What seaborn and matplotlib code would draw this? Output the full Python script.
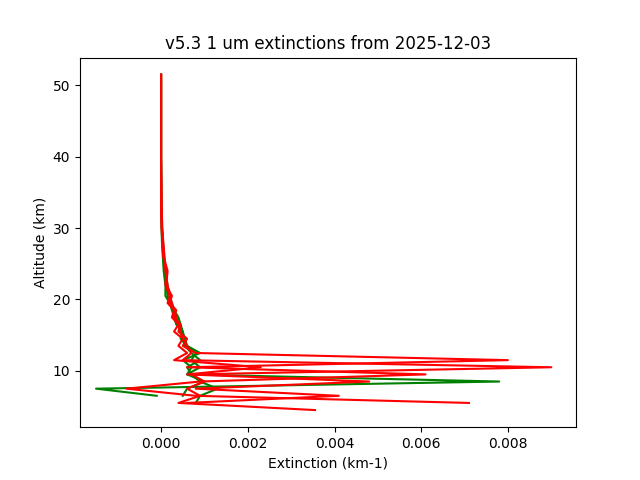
import matplotlib
matplotlib.use("Agg")
import matplotlib.pyplot as plt
import seaborn as sns
import pandas as pd

altitude = [4.5, 5.5, 6.5, 7.5, 8.5, 9.5, 10.5, 11.5, 12.5, 13.5, 14.5, 15.5, 16.5,
            17.5, 18.5, 19.5, 20.5, 22, 24, 26, 28, 30, 33, 40, 51.5]

# extinction values in units of 1e-3 km-1
green_profiles = {
    "g1": [None, None, -0.1, -1.5, 7.8, 0.6, 0.9, 0.7, 0.8, 0.6, 0.55, 0.5, 0.45, 0.4, 0.3, 0.25, 0.2, 0.15, 0.1, 0.07, 0.05, 0.02, 0.01, 0.0, 0.0],
    "g2": [None, 0.8, 0.9, 1.3, 0.9, 0.7, 0.6, 0.9, 0.7, 0.55, 0.5, 0.45, 0.4, 0.35, 0.3, 0.2, 0.15, 0.12, 0.08, 0.05, 0.03, 0.02, 0.01, 0.0, 0.0],
    "g3": [None, None, 0.5, 0.6, 1.0, 0.6, 0.7, 0.5, 0.9, 0.6, 0.45, 0.5, 0.35, 0.3, 0.25, 0.2, 0.1, 0.1, 0.06, 0.04, 0.02, 0.01, 0.0, 0.0, 0.0],
}
red_profiles = {
    "r1": [3.55, 0.4, 0.9, 0.6, 1.0, 0.7, 9.0, 0.5, 0.7, 0.6, 0.5, 0.45, 0.4, 0.35, 0.3, 0.25, 0.2, 0.15, 0.1, 0.08, 0.05, 0.03, 0.01, 0.0, 0.0],
    "r2": [None, 7.1, 0.8, -0.8, 0.9, 6.1, 0.6, 8.0, 0.8, 0.5, 0.6, 0.4, 0.45, 0.3, 0.35, 0.2, 0.25, 0.12, 0.15, 0.06, 0.04, 0.02, 0.01, 0.0, 0.0],
    "r3": [None, 0.6, 4.1, 0.8, 4.8, 0.6, 2.3, 0.3, 0.6, 0.4, 0.5, 0.3, 0.4, 0.25, 0.3, 0.15, 0.2, 0.1, 0.12, 0.05, 0.03, 0.01, 0.0, 0.0, 0.0],
}

rows = []
for color, profs in (("green", green_profiles), ("red", red_profiles)):
    for name, vals in profs.items():
        for i, (a, v) in enumerate(zip(altitude, vals)):
            if v is not None:
                rows.append(dict(profile=name, color=color, order=i, alt=a, ext=v * 1e-3))
df = pd.DataFrame(rows)

fig, ax = plt.subplots(figsize=(6.4, 4.8), dpi=100)
for color in ("green", "red"):
    sub = df[df.color == color]
    sns.lineplot(data=sub, x="ext", y="alt", units="profile", estimator=None,
                 sort=False, color=color, ax=ax, lw=1.5)
ax.set_xlim(-0.00187, 0.00957)
ax.set_ylim(2.1, 53.9)
ax.set_xlabel("Extinction (km-1)")
ax.set_ylabel("Altitude (km)")
ax.set_title("v5.3 1 um extinctions from 2025-12-03")
fig.savefig("out.png")
